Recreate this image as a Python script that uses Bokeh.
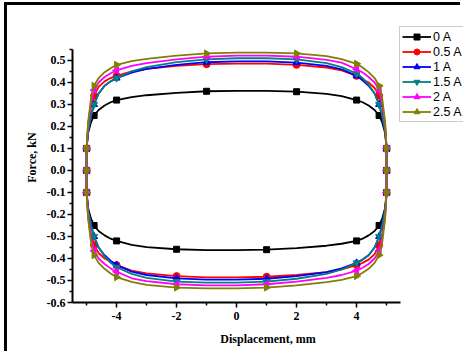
from bokeh.plotting import figure
from bokeh.models import FixedTicker, PrintfTickFormatter, Legend, LegendItem
from bokeh.embed import file_html
from bokeh.resources import INLINE
import math

# ---- data ----
x_upper = [-5, -4.95, -4.85, -4.75, -4.6, -4.4, -4.2, -4, -3.5, -3, -2, -1, 0,
           1, 2, 3, 3.5, 4, 4.2, 4.4, 4.6, 4.75, 4.85, 4.95, 5]
f_0A = [0.10, 0.17, 0.22, 0.25, 0.275, 0.295, 0.31, 0.32, 0.333, 0.342, 0.353, 0.36, 0.362,
        0.362, 0.358, 0.348, 0.338, 0.32, 0.31, 0.295, 0.275, 0.25, 0.22, 0.17, 0.10]
f_05A = [0.10, 0.20, 0.29, 0.34, 0.38, 0.405, 0.42, 0.43, 0.45, 0.462, 0.475, 0.483, 0.486,
         0.486, 0.48, 0.468, 0.455, 0.43, 0.415, 0.40, 0.375, 0.34, 0.29, 0.20, 0.10]
f_1A = [0.10, 0.18, 0.25, 0.30, 0.35, 0.385, 0.405, 0.42, 0.445, 0.462, 0.48, 0.492, 0.496,
        0.496, 0.49, 0.475, 0.46, 0.43, 0.41, 0.385, 0.35, 0.30, 0.25, 0.18, 0.10]
f_15A = [0.10, 0.18, 0.25, 0.30, 0.35, 0.385, 0.405, 0.42, 0.45, 0.47, 0.492, 0.505, 0.51,
         0.51, 0.505, 0.488, 0.47, 0.44, 0.42, 0.39, 0.35, 0.30, 0.25, 0.18, 0.10]
f_2A = [0.10, 0.21, 0.31, 0.365, 0.40, 0.425, 0.442, 0.455, 0.475, 0.488, 0.505, 0.517, 0.522,
        0.522, 0.517, 0.503, 0.49, 0.46, 0.445, 0.425, 0.40, 0.365, 0.31, 0.21, 0.10]
f_25A = [0.10, 0.22, 0.33, 0.385, 0.42, 0.447, 0.465, 0.48, 0.497, 0.507, 0.522, 0.532, 0.536,
         0.536, 0.532, 0.52, 0.506, 0.485, 0.468, 0.447, 0.42, 0.385, 0.33, 0.22, 0.10]

labels = ["0 A", "0.5 A", "1 A", "1.5 A", "2 A", "2.5 A"]
series = [f_0A, f_05A, f_1A, f_15A, f_2A, f_25A]
colors = ["#000000", "#ff0000", "#0000ff", "#008080", "#ff00ff", "#808000"]
markers = ["square", "circle", "triangle", "inverted_triangle", "triangle", "triangle"]
marker_angles = [0, 0, 0, 0, math.pi / 2, -math.pi / 2]
marker_sizes = [6, 7, 7, 7, 7, 7]

marker_x_upper = [-4.75, -4, -1, 2, 4, 4.75]
end_x = [-5, 5]
end_y = [0.1, 0.0, -0.1]

x_ticks = [-4, -2, 0, 2, 4]
x_minor = [-5, -3, -1, 1, 3, 5]
y_ticks = [-0.6, -0.5, -0.4, -0.3, -0.2, -0.1, 0.0, 0.1, 0.2, 0.3, 0.4, 0.5]
y_minor = [-0.55, -0.45, -0.35, -0.25, -0.15, -0.05, 0.05, 0.15, 0.25, 0.35, 0.45, 0.55]
x_axis_bounds = (-5.47, 5.47)
y_axis_bounds = (-0.6, 0.55)

# ---- figure ----
W, H = 456, 349
p = figure(width=W, height=H, output_backend="svg", toolbar_location=None,
           x_range=(-5.47, 7.563), y_range=(-0.6, 0.718),
           min_border_left=65, min_border_right=0, min_border_top=7, min_border_bottom=52)
p.styles = {"border-top": "3px solid black", "border-left": "3px solid black"}
p.margin = (2, 0, 0, 4)
p.outline_line_color = None
p.xgrid.visible = False
p.ygrid.visible = False
p.background_fill_color = "white"
p.border_fill_color = "white"

items = []
for lab, f, c, m, a, s in zip(labels, series, colors, markers, marker_angles, marker_sizes):
    lx = x_upper + [5] + [-v for v in x_upper] + [-5, -5]
    ly = f + [0.0] + [-v for v in f] + [0.0, f[0]]
    lr = p.line(lx, ly, line_color=c, line_width=1.8)
    mx, my = [], []
    for xm in marker_x_upper:
        i = x_upper.index(xm)
        mx += [xm, -xm]
        my += [f[i], -f[i]]
    for xe in end_x:
        for ye in end_y:
            mx.append(xe)
            my.append(ye)
    sr = p.scatter(mx, my, marker=m, size=s, angle=a, fill_color=c, line_color=c)
    items.append(LegendItem(label=lab, renderers=[lr, sr]))

legend = Legend(items=items, location=(327, 180))
legend.label_text_font = "Liberation Sans"
legend.label_text_font_size = "12.5px"
legend.label_text_color = "black"
legend.glyph_width = 29
legend.glyph_height = 15
legend.label_height = 15
legend.label_standoff = 2
legend.spacing = 0
legend.padding = 2
legend.margin = 0
legend.border_line_color = "#999999"
legend.border_line_width = 1
legend.background_fill_color = "white"
legend.background_fill_alpha = 1.0
p.add_layout(legend)

# axes
p.xaxis.ticker = FixedTicker(ticks=x_ticks, minor_ticks=x_minor)
p.yaxis.ticker = FixedTicker(ticks=y_ticks, minor_ticks=y_minor)
p.xaxis.formatter = PrintfTickFormatter(format="%d")
p.yaxis.formatter = PrintfTickFormatter(format="%.1f")
p.xaxis.bounds = x_axis_bounds
p.yaxis.bounds = y_axis_bounds
p.xaxis.axis_label = "Displacement, mm"
p.yaxis.axis_label = "Force, kN"
for ax in (p.xaxis[0], p.yaxis[0]):
    ax.axis_line_width = 2
    ax.axis_line_color = "black"
    ax.major_tick_line_color = "black"
    ax.minor_tick_line_color = "black"
    ax.major_tick_line_width = 1.5
    ax.minor_tick_line_width = 1.5
    ax.major_tick_in = 0
    ax.major_tick_out = 5
    ax.minor_tick_in = 0
    ax.minor_tick_out = 3
    ax.major_label_text_font = "Liberation Serif"
    ax.major_label_text_font_style = "bold"
    ax.major_label_text_font_size = "12px"
    ax.major_label_text_color = "black"
    ax.axis_label_text_font = "Liberation Serif"
    ax.axis_label_text_font_style = "bold"
    ax.axis_label_text_font_size = "12px"
    ax.axis_label_text_color = "black"
p.xaxis.major_label_standoff = 4
p.yaxis.major_label_standoff = 2
p.xaxis.axis_label_standoff = 9
p.yaxis.axis_label_standoff = 5

open("out.html", "w").write(file_html(p, INLINE))
